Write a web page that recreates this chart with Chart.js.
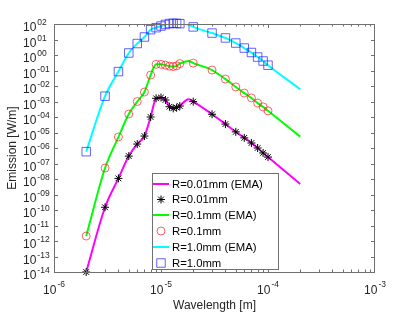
<!DOCTYPE html>
<html><head><meta charset="utf-8">
<script src="https://cdn.jsdelivr.net/npm/chart.js@4/dist/chart.umd.min.js"></script>
<style>html,body{margin:0;padding:0;background:#fff}canvas{display:block}</style>
</head><body>
<canvas id="c" width="415" height="312"></canvas>
<script>
// ---------- data (wavelength in micrometres, emission in W/m) ----------
const markerWavelengthsUm = [2,3,4,5,6,7,8,9,10,11,12,13,14,15,20,30,40,50,60,70,80,90,100];
const lineWavelengthsUm   = [2,3,4,5,6,7,8,9,10,11,12,13,14,15,16,17,18,20,30,40,50,60,70,80,90,100,200];

const r001Points = [1.0e-14,1.5e-10,1.1e-8,3.0e-7,1.8e-6,5.9e-6,1.0e-4,1.6e-3,1.8e-3,1.25e-3,4.6e-4,3.6e-4,4.0e-4,5.1e-4,
                    9.8e-4,1.5e-4,3.5e-5,1.1e-5,4.5e-6,2.1e-6,1.0e-6,4.8e-7,2.6e-7];
const r001EMA    = [1.0e-14,1.5e-10,1.1e-8,3.0e-7,1.8e-6,5.9e-6,1.0e-4,1.6e-3,1.8e-3,1.25e-3,4.6e-4,3.6e-4,4.0e-4,5.1e-4,
                    8.0e-4,1.15e-3,1.4e-3,9.8e-4,1.5e-4,3.5e-5,1.1e-5,4.5e-6,2.1e-6,1.0e-6,4.8e-7,2.6e-7,4.8e-9];

const r01Points  = [2.1e-12,5.1e-8,5.1e-6,1.55e-4,1.0e-3,4.1e-3,5.1e-2,0.25,0.25,0.22,0.19,0.18,0.20,0.28,
                    0.30,0.107,2.8e-2,8.7e-3,3.5e-3,1.7e-3,7.9e-4,4.5e-4,2.5e-4];
const r01EMA     = [2.1e-12,5.1e-8,5.1e-6,1.55e-4,1.0e-3,4.1e-3,5.1e-2,0.25,0.25,0.22,0.19,0.18,0.20,0.28,
                    0.33,0.38,0.41,0.30,0.107,2.8e-2,8.7e-3,3.5e-3,1.7e-3,7.9e-4,4.5e-4,2.5e-4,5.4e-6];

const r1Points   = [5.8e-7,2.2e-3,8.5e-2,1.35,5.5,14.5,43,58,74,93,107,110,110,105,
                    65,26,12.6,5.9,2.8,1.45,0.74,0.41,0.22];
const r1EMA      = [5.8e-7,2.2e-3,8.5e-2,1.35,5.5,14.5,43,58,74,93,107,110,110,105,
                    105,100,91,65,26,12.6,5.9,2.8,1.45,0.74,0.41,0.22,6.2e-3];

const xTickExponents = [-6,-5,-4,-3];
const xTickExpLabels = ['-6','-5','-4','-3'];
const yTickExponents = [2,1,0,-1,-2,-3,-4,-5,-6,-7,-8,-9,-10,-11,-12,-13,-14];
const yTickExpLabels = ['02','01','00','-01','-02','-03','-04','-05','-06','-07','-08','-09','-10','-11','-12','-13','-14'];

const legendLabels = ['R=0.01mm (EMA)','R=0.01mm','R=0.1mm (EMA)','R=0.1mm','R=1.0mm (EMA)','R=1.0mm'];
const xTitle = 'Wavelength [m]';
const yTitle = 'Emission [W/m]';

// ---------- helpers ----------
const toPts = (xs, ys) => xs.map((x, i) => ({x: x * 1e-6, y: ys[i]}));
const FONT = '"Liberation Sans", Arial, Helvetica, sans-serif';
const AXIS_COLOR = '#707070';
const MARK_W = 0.7;

function lineDS(label, data, color) {
  return {label, data, borderColor: color, backgroundColor: color, borderWidth: 2,
          pointRadius: 0, showLine: true, cubicInterpolationMode: 'monotone', order: 2, fill: false};
}
function markDS(label, data, style, color, radius, width) {
  return {label, data, showLine: false, pointStyle: style, pointRadius: radius, pointHoverRadius: radius,
          borderColor: color, backgroundColor: 'rgba(0,0,0,0)', pointBorderWidth: width, borderWidth: width,
          order: 1, clip: false};
}

const datasets = [
  lineDS(legendLabels[0], toPts(lineWavelengthsUm, r001EMA), '#ff00ff'),
  markDS(legendLabels[1], toPts(markerWavelengthsUm, r001Points), 'star', '#000000', 4, 1),
  lineDS(legendLabels[2], toPts(lineWavelengthsUm, r01EMA), '#00ff00'),
  markDS(legendLabels[3], toPts(markerWavelengthsUm, r01Points), 'circle', '#ff2020', 4, MARK_W),
  lineDS(legendLabels[4], toPts(lineWavelengthsUm, r1EMA), '#00ffff'),
  markDS(legendLabels[5], toPts(markerWavelengthsUm, r1Points), 'rect', '#2020ff', 6, MARK_W),
];

function drawMarker(ctx, style, color, r, w, x, y) {
  ctx.save();
  ctx.strokeStyle = color; ctx.lineWidth = w;
  ctx.beginPath();
  if (style === 'star') {
    ctx.moveTo(x, y - r); ctx.lineTo(x, y + r);
    ctx.moveTo(x - r, y); ctx.lineTo(x + r, y);
    const d = r * Math.SQRT1_2;
    ctx.moveTo(x - d, y - d); ctx.lineTo(x + d, y + d);
    ctx.moveTo(x - d, y + d); ctx.lineTo(x + d, y - d);
  } else if (style === 'circle') {
    ctx.arc(x, y, r, 0, Math.PI * 2);
  } else if (style === 'rect') {
    const s = r * Math.SQRT1_2;
    ctx.rect(x - s, y - s, 2 * s, 2 * s);
  }
  ctx.stroke();
  ctx.restore();
}

const decoPlugin = {
  id: 'deco',
  afterDatasetsDraw(chart) {
    const ctx = chart.ctx;
    const {left, right, top, bottom} = chart.chartArea;
    const xs = chart.scales.x, ys = chart.scales.y;
    ctx.save();
    // axes box
    ctx.strokeStyle = AXIS_COLOR; ctx.lineWidth = 1;
    ctx.strokeRect(left + 0.5, top + 0.5, right - left - 1, bottom - top);
    // x ticks
    ctx.beginPath();
    for (let e = -6; e < -3; e++) {
      for (let m = 1; m < 10; m++) {
        const px = Math.round(xs.getPixelForValue(m * Math.pow(10, e))) + 0.5;
        const len = m === 1 ? 4 : 2.5;
        ctx.moveTo(px, bottom); ctx.lineTo(px, bottom - len);
        ctx.moveTo(px, top); ctx.lineTo(px, top + len);
      }
    }
    // y ticks
    yTickExponents.forEach(e => {
      const py = Math.round(ys.getPixelForValue(Math.pow(10, e))) + 0.5;
      ctx.moveTo(left, py); ctx.lineTo(left + 4, py);
      ctx.moveTo(right, py); ctx.lineTo(right - 4, py);
    });
    ctx.stroke();

    // y tick labels
    ctx.fillStyle = '#262626';
    ctx.textAlign = 'left'; ctx.textBaseline = 'alphabetic';
    yTickExponents.forEach((e, i) => {
      const py = ys.getPixelForValue(Math.pow(10, e));
      ctx.font = '12px ' + FONT;
      ctx.fillText('10', 23, py + 7);
      const w = ctx.measureText('10').width;
      ctx.font = '8.5px ' + FONT;
      ctx.fillText(yTickExpLabels[i], 23 + w + 1, py + 1);
    });
    // x tick labels
    xTickExponents.forEach((e, i) => {
      const px = xs.getPixelForValue(Math.pow(10, e));
      ctx.font = '12px ' + FONT;
      const w1 = ctx.measureText('10').width;
      ctx.font = '8.5px ' + FONT;
      const w2 = ctx.measureText(xTickExpLabels[i]).width;
      const x0 = px - (w1 + 1 + w2) / 2;
      ctx.font = '12px ' + FONT;
      ctx.fillText('10', x0, 294);
      ctx.font = '8.5px ' + FONT;
      ctx.fillText(xTickExpLabels[i], x0 + w1 + 1, 287);
    });
    // axis titles
    ctx.font = '12px ' + FONT;
    ctx.textAlign = 'center';
    ctx.fillText(xTitle, (left + right) / 2, 309);
    ctx.save();
    ctx.translate(13, (top + bottom) / 2);
    ctx.rotate(-Math.PI / 2);
    ctx.textBaseline = 'middle';
    ctx.fillText(yTitle, 0, 0);
    ctx.restore();

    // legend
    const bx = 152, by = 173, bw = 126, bh = 96;
    ctx.fillStyle = '#ffffff';
    ctx.fillRect(bx, by, bw, bh);
    ctx.strokeStyle = AXIS_COLOR; ctx.lineWidth = 1;
    ctx.strokeRect(bx + 0.5, by + 0.5, bw, bh);
    const rowY = [184, 199.5, 215, 231, 247, 263];
    chart.data.datasets.forEach((ds, i) => {
      const y = rowY[i];
      if (ds.showLine) {
        ctx.strokeStyle = ds.borderColor; ctx.lineWidth = 2;
        ctx.beginPath(); ctx.moveTo(153, y); ctx.lineTo(169, y); ctx.stroke();
      } else {
        drawMarker(ctx, ds.pointStyle, ds.borderColor, ds.pointRadius, ds.pointBorderWidth, 161, y);
      }
      ctx.fillStyle = '#000000';
      ctx.font = '11.3px ' + FONT;
      ctx.textAlign = 'left'; ctx.textBaseline = 'middle';
      ctx.fillText(ds.label, 172, y + 0.5);
    });
    ctx.restore();
  }
};

new Chart(document.getElementById('c'), {
  type: 'line',
  data: {datasets},
  options: {
    responsive: false, animation: false, devicePixelRatio: 1,
    layout: {padding: {left: 54, right: 40, top: 24, bottom: 40}},
    plugins: {legend: {display: false}, tooltip: {enabled: false}},
    scales: {
      x: {type: 'logarithmic', min: 1e-6, max: 1e-3, display: false},
      y: {type: 'logarithmic', min: 1e-14, max: 1e2, display: false}
    }
  },
  plugins: [decoPlugin]
});
</script>
</body></html>
